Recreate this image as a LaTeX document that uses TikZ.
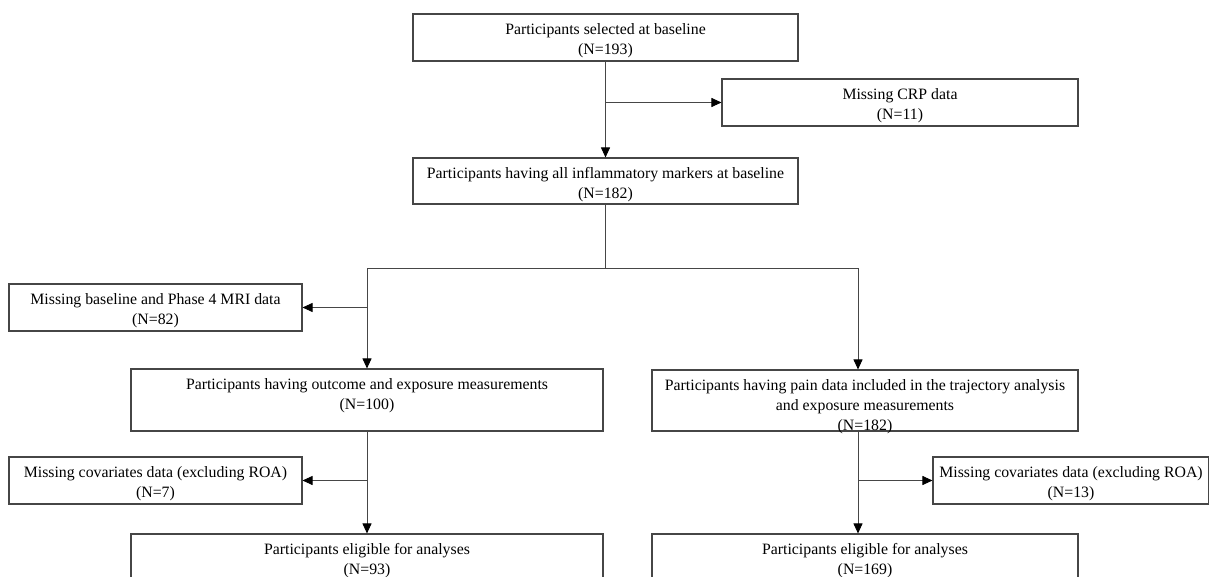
\documentclass[tikz,border=0pt]{standalone}
\usepackage{fontspec}
\setmainfont{Liberation Serif}
\usetikzlibrary{arrows.meta,calc}
\definecolor{lc}{RGB}{70,70,70}
\newcommand{\lbfont}{\fontsize{15.8pt}{20pt}\selectfont}
\tikzset{
  box/.style={draw=lc, line width=1.1pt, rectangle, inner sep=0pt},
  lbl/.style={font=\lbfont, align=center, inner sep=0pt, anchor=north, text=black},
  arr/.style={draw=lc, line width=0.9pt, -{Triangle[length=10pt,width=9pt,color=black]}},
  ln/.style={draw=lc, line width=0.9pt},
}
\begin{document}
\begin{tikzpicture}[x=1pt,y=-1pt]
\useasboundingbox (0,0) rectangle (1209,577);
\clip (0,0) rectangle (1209,577);
\fill[white] (0,0) rectangle (1209,577);
% boxes
\node[box, minimum width=385pt, minimum height=47pt] (b1) at (605.5,37.5) {};
\node[lbl] (b1t) at ([yshift=-10pt]b1.north) {Participants selected at baseline\\(N=193)};
\node[box, minimum width=356pt, minimum height=47pt] (crp) at (900,102.5) {};
\node[lbl] (crpt) at ([yshift=-10pt]crp.north) {Missing CRP data\\(N=11)};
\node[box, minimum width=385pt, minimum height=46pt] (b2) at (605.5,181) {};
\node[lbl] (b2t) at ([yshift=-10pt]b2.north) {Participants having all inflammatory markers at baseline\\(N=182)};
\node[box, minimum width=293pt, minimum height=47pt] (m82) at (155.5,307.5) {};
\node[lbl] (m82t) at ([yshift=-10pt]m82.north) {Missing baseline and Phase 4 MRI data\\(N=82)};
\node[box, minimum width=472pt, minimum height=62pt] (out) at (367,400) {};
\node[lbl] (outt) at ([yshift=-10pt]out.north) {Participants having outcome and exposure measurements\\(N=100)};
\node[box, minimum width=426pt, minimum height=61pt] (pain) at (865,400.5) {};
\node[lbl] (paint) at ([yshift=-10pt]pain.north) {Participants having pain data included in the trajectory analysis\\and exposure measurements\\(N=182)};
\node[box, minimum width=293pt, minimum height=47pt] (c7) at (155.5,480.5) {};
\node[lbl] (c7t) at ([yshift=-10pt]c7.north) {Missing covariates data (excluding ROA)\\(N=7)};
\node[box, minimum width=276pt, minimum height=47pt] (c13) at (1071,480.5) {};
\node[lbl] (c13t) at ([yshift=-10pt]c13.north) {Missing covariates data (excluding ROA)\\(N=13)};
\node[box, minimum width=472pt, minimum height=47pt] (e93) at (367,557.5) {};
\node[lbl] (e93t) at ([yshift=-10pt]e93.north) {Participants eligible for analyses\\(N=93)};
\node[box, minimum width=426pt, minimum height=47pt] (e169) at (865,557.5) {};
\node[lbl] (e169t) at ([yshift=-10pt]e169.north) {Participants eligible for analyses\\(N=169)};
% connectors
\coordinate (sp) at (605.5,268);
\coordinate (pv) at (858,268);
\draw[arr] (b1.south) -- (b2.north);
\draw[arr] (b1.south |- crp.west) -- (crp.west);
\draw[ln] (b2.south) -- (sp);
\draw[arr] (sp) -| (out.north);
\draw[arr] (sp) -- (pv) -- (pv |- pain.north);
\draw[arr] (out.north |- m82.east) -- (m82.east);
\draw[arr] (out.south) -- (e93.north);
\draw[arr] (out.south |- c7.east) -- (c7.east);
\draw[arr] (pv |- pain.south) -- (pv |- e169.north);
\draw[arr] (pv |- c13.west) -- (c13.west);
\end{tikzpicture}
\end{document}
